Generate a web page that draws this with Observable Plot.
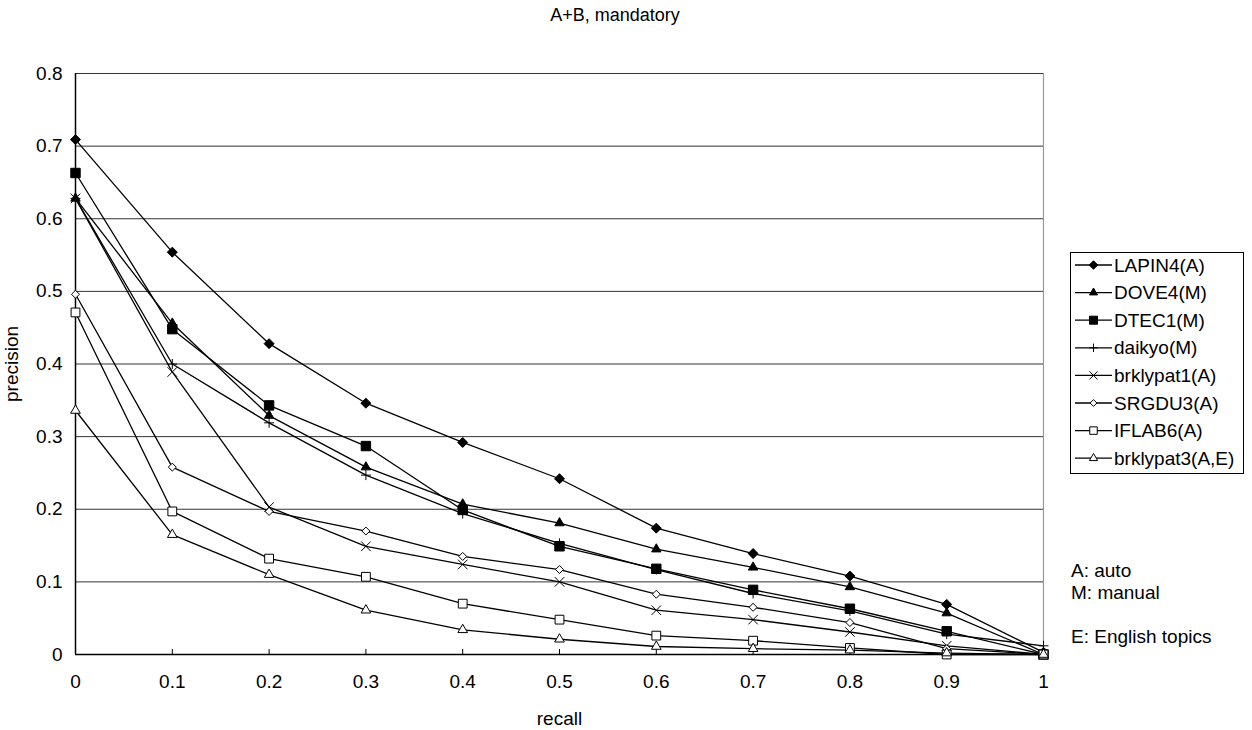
<!DOCTYPE html>
<html>
<head>
<meta charset="utf-8">
<script src="https://cdn.jsdelivr.net/npm/d3@7"></script>
<script src="https://cdn.jsdelivr.net/npm/@observablehq/plot@0.6"></script>
<style>
  html, body { margin: 0; padding: 0; background: #fff; }
  #chart { width: 1252px; height: 730px; }
</style>
</head>
<body>
<div id="chart"></div>
<script>
// ---- data ----
const recall = [0, 0.1, 0.2, 0.3, 0.4, 0.5, 0.6, 0.7, 0.8, 0.9, 1];
const seriesNames = ["LAPIN4(A)", "DOVE4(M)", "DTEC1(M)", "daikyo(M)", "brklypat1(A)", "SRGDU3(A)", "IFLAB6(A)", "brklypat3(A,E)"];
const LAPIN4    = [0.709, 0.554, 0.428, 0.346, 0.292, 0.242, 0.174, 0.139, 0.108, 0.069, 0.003];
const DOVE4     = [0.628, 0.456, 0.329, 0.258, 0.207, 0.181, 0.145, 0.120, 0.093, 0.057, 0.000];
const DTEC1     = [0.663, 0.448, 0.343, 0.287, 0.199, 0.149, 0.118, 0.089, 0.063, 0.032, 0.000];
const daikyo    = [0.628, 0.400, 0.319, 0.247, 0.194, 0.153, 0.117, 0.084, 0.060, 0.028, 0.012];
const brklypat1 = [0.628, 0.389, 0.203, 0.149, 0.124, 0.100, 0.061, 0.048, 0.031, 0.012, 0.000];
const SRGDU3    = [0.496, 0.258, 0.197, 0.170, 0.135, 0.117, 0.083, 0.065, 0.044, 0.008, 0.000];
const IFLAB6    = [0.471, 0.197, 0.132, 0.107, 0.070, 0.048, 0.026, 0.019, 0.009, 0.000, 0.000];
const brklypat3 = [0.336, 0.165, 0.110, 0.061, 0.034, 0.021, 0.011, 0.008, 0.006, 0.002, 0.000];
const seriesValues = [LAPIN4, DOVE4, DTEC1, daikyo, brklypat1, SRGDU3, IFLAB6, brklypat3];
const xTicks = [0, 0.1, 0.2, 0.3, 0.4, 0.5, 0.6, 0.7, 0.8, 0.9, 1];
const yTicks = [0, 0.1, 0.2, 0.3, 0.4, 0.5, 0.6, 0.7, 0.8];
const titleText = "A+B, mandatory";
const notes = ["A: auto", "M: manual", "", "E: English topics"];

// ---- marker styles (one per series) ----
const markers = [
  {symbol: "diamond2", fill: "#000", r: 4.5},
  {symbol: "triangle2", fill: "#000", r: 4.5},
  {symbol: "square2", fill: "#000", r: 6.0},
  {symbol: "plus", fill: "none", r: 3.3},
  {symbol: "times", fill: "none", r: 4.4},
  {symbol: "diamond2", fill: "#fff", r: 3.6},
  {symbol: "square2", fill: "#fff", r: 5.6},
  {symbol: "triangle2", fill: "#fff", r: 4.6}
];

const table = seriesNames.flatMap((name, i) =>
  recall.map((x, j) => ({series: name, recall: x, precision: seriesValues[i][j]})));

const fmt = d => String(+d.toFixed(1));
const FONT = "'Liberation Sans', Arial, sans-serif";
const FS = 19;

const marks = [
  Plot.gridY(yTicks, {stroke: "#000", strokeOpacity: 0.8, strokeWidth: 1}),
  Plot.ruleX([1], {stroke: "#999", strokeWidth: 1.2}),
  Plot.axisY({ticks: yTicks, tickSize: 0, tickPadding: 13, tickFormat: fmt,
    label: "precision", labelAnchor: "center", labelArrow: "none", labelOffset: 71}),
  Plot.axisX({ticks: xTicks, tickSize: 0, tickPadding: 20, tickFormat: fmt,
    label: "recall", labelAnchor: "center", labelArrow: "none", labelOffset: 70}),
  Plot.axisX({ticks: xTicks, tickSize: -5, tickFormat: () => "", label: null, stroke: "#000"}),
  Plot.ruleY([0], {stroke: "#000", strokeWidth: 1.5}),
  Plot.ruleX([0], {stroke: "#000", strokeWidth: 1.5})
];
seriesNames.forEach((name, i) => {
  const d = table.filter(r => r.series === name);
  marks.push(Plot.line(d, {x: "recall", y: "precision", stroke: "#000", strokeWidth: 1.3}));
});
seriesNames.forEach((name, i) => {
  const d = table.filter(r => r.series === name);
  const m = markers[i];
  marks.push(Plot.dot(d, {x: "recall", y: "precision", symbol: () => m.symbol, r: m.r,
    fill: m.fill, stroke: "#000", strokeWidth: 1}));
});

const chart = Plot.plot({
  width: 1252,
  height: 730,
  marginLeft: 75,
  marginRight: 209,
  marginTop: 73,
  marginBottom: 76,
  x: {domain: [0, 1]},
  y: {domain: [0, 0.8]},
  symbol: {type: "identity"},
  style: {fontFamily: FONT, fontSize: FS + "px", color: "#000", background: "#fff"},
  marks
});
document.getElementById("chart").appendChild(chart);

// ---- title, legend, notes (SVG text) ----
const svg = d3.select(chart);
svg.append("text")
  .attr("x", 615).attr("y", 21)
  .attr("text-anchor", "middle")
  .attr("font-family", FONT).attr("font-size", FS - 1).attr("fill", "#000")
  .text(titleText);

const lg = svg.append("g").attr("text-anchor", "start");
lg.append("rect").attr("x", 1070.5).attr("y", 252.5).attr("width", 173).attr("height", 221)
  .attr("fill", "#fff").attr("stroke", "#000").attr("stroke-width", 1);
const symMap = {diamond2: d3.symbolDiamond2, triangle2: d3.symbolTriangle2, square2: d3.symbolSquare2,
  plus: d3.symbolPlus, times: d3.symbolTimes};
seriesNames.forEach((name, i) => {
  const y = 265 + i * 27.6;
  const m = markers[i];
  lg.append("line").attr("x1", 1075).attr("x2", 1112).attr("y1", y).attr("y2", y)
    .attr("stroke", "#000").attr("stroke-width", 1.3);
  const rr = m.r * 0.85;
  lg.append("path").attr("transform", `translate(1093.5,${y})`)
    .attr("d", d3.symbol(symMap[m.symbol], Math.PI * rr * rr)())
    .attr("fill", m.fill).attr("stroke", "#000").attr("stroke-width", 1);
  lg.append("text").attr("x", 1114).attr("y", y).attr("dy", "0.35em")
    .attr("text-anchor", "start")
    .attr("font-family", FONT).attr("font-size", FS).attr("fill", "#000").text(name);
});
notes.forEach((t, i) => {
  if (!t) return;
  svg.append("text").attr("x", 1071).attr("y", 570 + i * 22).attr("dy", "0.35em")
    .attr("text-anchor", "start")
    .attr("font-family", FONT).attr("font-size", FS).attr("fill", "#000").text(t);
});
</script>
</body>
</html>
